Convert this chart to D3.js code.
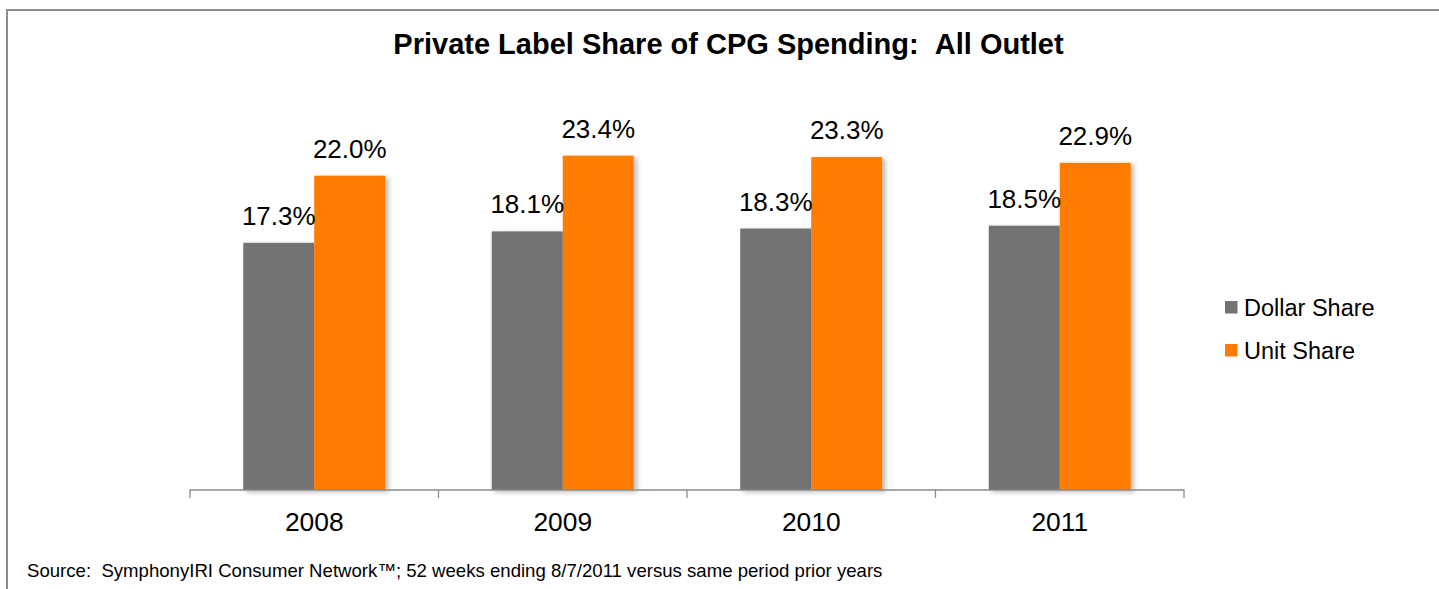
<!DOCTYPE html>
<html>
<head>
<meta charset="utf-8">
<script src="https://cdn.jsdelivr.net/npm/d3@7"></script>
<style>
  html, body { margin: 0; padding: 0; background: #fff; }
  svg { display: block; font-family: Arial, "Liberation Sans", sans-serif; }
</style>
</head>
<body>
<div id="chart"></div>
<script>
// Data
const years = ["2008", "2009", "2010", "2011"];
const seriesNames = ["Dollar Share", "Unit Share"];
const dollarShare = [17.3, 18.1, 18.3, 18.5];
const unitShare = [22.0, 23.4, 23.3, 22.9];
const titleText = "Private Label Share of CPG Spending:\u00a0\u00a0All Outlet";
const sourceText = "Source:\u00a0\u00a0SymphonyIRI Consumer Network\u2122; 52 weeks ending 8/7/2011 versus same period prior years";

// Configuration
const config = {
    width: 1439,
    height: 589,
    plot: { left: 190, right: 1184, top: 132.8, bottom: 490 },
    colors: {
        "Dollar Share": "#737375",
        "Unit Share": "#FF7C00",
        axis: "#8c8c8c",
        frame: "#8c8c8c"
    }
};

const rows = years.map((y, i) => ({
    year: y,
    values: [
        { key: seriesNames[0], value: dollarShare[i] },
        { key: seriesNames[1], value: unitShare[i] }
    ]
}));

const svg = d3.select("#chart").append("svg")
    .attr("width", config.width)
    .attr("height", config.height);

// Drop shadow for bars
const defs = svg.append("defs");
const shadow = defs.append("filter")
    .attr("id", "barShadow")
    .attr("x", "-20%").attr("y", "-10%")
    .attr("width", "150%").attr("height", "130%");
shadow.append("feDropShadow")
    .attr("dx", 3).attr("dy", 2)
    .attr("stdDeviation", 2.5)
    .attr("flood-color", "#000")
    .attr("flood-opacity", 0.28);

// Outer frame (top + left edges visible)
svg.append("path")
    .attr("d", `M7,${config.height} V10 H${config.width}`)
    .attr("fill", "none")
    .attr("stroke", config.colors.frame)
    .attr("stroke-width", 2);

// Scales
const x0 = d3.scaleBand()
    .domain(years)
    .range([config.plot.left, config.plot.right])
    .paddingInner(0)
    .paddingOuter(0);

const x1 = d3.scaleBand()
    .domain(seriesNames)
    .range([0, x0.bandwidth()])
    .paddingInner(0)
    .paddingOuter(0.75);

const y = d3.scaleLinear()
    .domain([0, 25])
    .range([config.plot.bottom, config.plot.top]);

// Bars
const groups = svg.append("g")
    .selectAll("g")
    .data(rows)
    .join("g")
    .attr("transform", d => `translate(${x0(d.year)},0)`);

groups.selectAll("rect")
    .data(d => d.values)
    .join("rect")
    .attr("x", d => x1(d.key))
    .attr("y", d => y(d.value))
    .attr("width", x1.bandwidth())
    .attr("height", d => y(0) - y(d.value))
    .attr("fill", d => config.colors[d.key])
    .attr("filter", "url(#barShadow)");

// Value labels
groups.selectAll("text.value")
    .data(d => d.values)
    .join("text")
    .attr("class", "value")
    .attr("x", d => x1(d.key) + x1.bandwidth() / 2)
    .attr("y", d => y(d.value) - 18)
    .attr("text-anchor", "middle")
    .attr("font-size", "26px")
    .attr("fill", "#000")
    .text(d => d.value.toFixed(1) + "%");

// X axis
const xAxis = d3.axisBottom(x0)
    .tickSize(0)
    .tickPadding(0);

const axisG = svg.append("g")
    .attr("transform", `translate(0,${config.plot.bottom})`)
    .call(xAxis);

axisG.select(".domain")
    .attr("d", `M${config.plot.left},8 V0 H${config.plot.right} V8`)
    .attr("stroke", config.colors.axis)
    .attr("stroke-width", 1.3)
    .attr("fill", "none");

// Category boundary ticks
axisG.selectAll("line.sep")
    .data(years.slice(1))
    .join("line")
    .attr("class", "sep")
    .attr("x1", d => x0(d))
    .attr("x2", d => x0(d))
    .attr("y1", 0)
    .attr("y2", 8)
    .attr("stroke", config.colors.axis)
    .attr("stroke-width", 1.3);

axisG.selectAll(".tick text")
    .attr("y", 41)
    .attr("dy", 0)
    .attr("font-size", "26.4px")
    .attr("font-family", "Arial, 'Liberation Sans', sans-serif")
    .attr("fill", "#000");

// Title
svg.append("text")
    .attr("x", 728.5)
    .attr("y", 53.5)
    .attr("text-anchor", "middle")
    .attr("font-size", "29px")
    .attr("font-weight", "bold")
    .attr("fill", "#000")
    .text(titleText);

// Legend
const legend = svg.append("g")
    .attr("transform", "translate(1225,301)");

const legendItems = legend.selectAll("g")
    .data(seriesNames)
    .join("g")
    .attr("transform", (d, i) => `translate(0,${i * 43})`);

legendItems.append("rect")
    .attr("width", 12.5)
    .attr("height", 12.5)
    .attr("fill", d => config.colors[d]);

legendItems.append("text")
    .attr("x", 19)
    .attr("y", 14.5)
    .attr("font-size", "23.5px")
    .attr("fill", "#000")
    .text(d => d);

// Source note
svg.append("text")
    .attr("x", 27)
    .attr("y", 577)
    .attr("font-size", "18.6px")
    .attr("fill", "#000")
    .text(sourceText);
</script>
</body>
</html>
